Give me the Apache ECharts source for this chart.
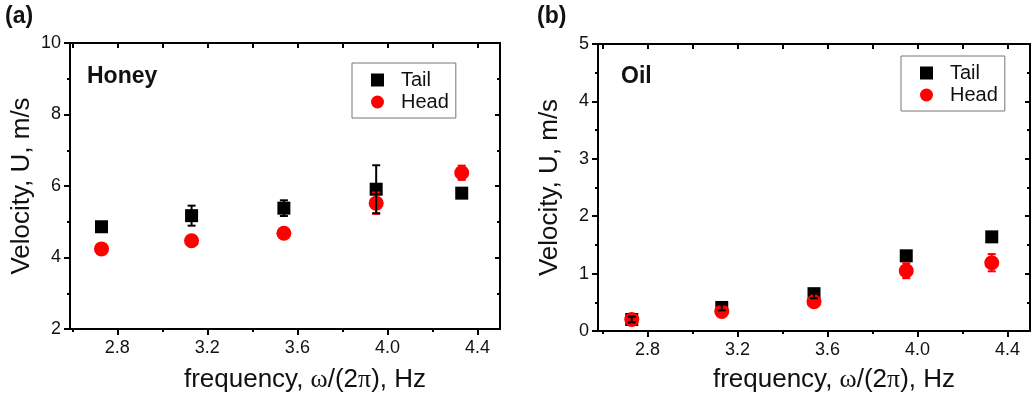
<!DOCTYPE html>
<html><head><meta charset="utf-8">
<script src="https://cdn.jsdelivr.net/npm/echarts@6/dist/echarts.min.js"></script>
<style>html,body{margin:0;padding:0;background:#fff}#c{width:1035px;height:394px}</style>
</head><body><div id="c"></div>
<script>
// ---- data ----
const freq = [2.73, 3.13, 3.54, 3.95, 4.33];
const honeyTail = [4.86, 5.17, 5.38, 5.91, 5.80];
const honeyTailErr = [0.12, 0.28, 0.22, 0.67, 0.10];
const honeyHead = [4.24, 4.47, 4.68, 5.52, 6.37];
const honeyHeadErr = [0.10, 0.10, 0.10, 0.30, 0.20];
const oilTail = [0.20, 0.41, 0.65, 1.31, 1.64];
const oilTailErr = [0.05, 0.05, 0.08, 0.06, 0.06];
const oilHead = [0.20, 0.34, 0.51, 1.05, 1.19];
const oilHeadErr = [0.08, 0.06, 0.08, 0.13, 0.15];
const xMajor = [2.8, 3.2, 3.6, 4.0, 4.4];
const xMinor = [2.6, 3.0, 3.4, 3.8, 4.2];
const panelLabels = ['(a)', '(b)'];
const fluidNames = ['Honey', 'Oil'];

const FONT = 'Liberation Sans, Arial, sans-serif';
const TXT = '#111';

const chart = echarts.init(document.getElementById('c'), null, {renderer: 'canvas'});

function pts(xs, ys, es) { return xs.map((x, i) => es ? [x, ys[i], es[i]] : [x, ys[i]]); }

function errItem(color) {
  return function (params, api) {
    const x = api.value(0), y = api.value(1), e = api.value(2);
    const hi = api.coord([x, y + e]), lo = api.coord([x, y - e]);
    const w = 4;
    const style = {stroke: color, lineWidth: 2};
    return {type: 'group', children: [
      {type: 'line', shape: {x1: hi[0], y1: hi[1], x2: lo[0], y2: lo[1]}, style: style},
      {type: 'line', shape: {x1: hi[0] - w, y1: hi[1], x2: hi[0] + w, y2: hi[1]}, style: style},
      {type: 'line', shape: {x1: lo[0] - w, y1: lo[1], x2: lo[0] + w, y2: lo[1]}, style: style}
    ]};
  };
}

const grids = [
  {left: 70, top: 43, width: 430, height: 286, containLabel: false, outerBoundsMode: 'none'},
  {left: 598, top: 44, width: 432, height: 287, containLabel: false, outerBoundsMode: 'none'}
];
const xRange = [[2.59, 4.5], [2.58, 4.5]];
const yRange = [[2, 10, 2], [0, 5, 1]];
const xNameGap = [38, 36];

const xAxes = [], yAxes = [];
[0, 1].forEach(g => {
  const [mn, mx] = xRange[g];
  xAxes.push({
    gridIndex: g, type: 'value', position: 'bottom', min: mn, max: mx,
    axisLine: {show: true, lineStyle: {color: '#000', width: 2}},
    axisTick: {show: true, customValues: xMajor, length: 6, inside: false, lineStyle: {color: '#000', width: 2}},
    axisLabel: {customValues: xMajor, formatter: v => v.toFixed(1), fontSize: 18, color: TXT, fontFamily: FONT, margin: 10},
    splitLine: {show: false},
    name: 'frequency, {g|ω}/(2{g|π}), Hz', nameLocation: 'middle', nameGap: xNameGap[g],
    nameTextStyle: {fontSize: 26, color: TXT, fontFamily: FONT, padding: [0, 0, 0, 40],
      rich: {g: {fontSize: 26, color: TXT, fontFamily: 'Liberation Serif, serif'}}}
  });
  xAxes.push({
    gridIndex: g, type: 'value', position: 'bottom', min: mn, max: mx,
    axisLine: {show: false},
    axisTick: {show: true, customValues: xMinor, length: 3, inside: false, lineStyle: {color: '#000', width: 2}},
    axisLabel: {show: false}, splitLine: {show: false}
  });
  xAxes.push({
    gridIndex: g, type: 'value', position: 'top', min: mn, max: mx,
    axisLine: {show: true, lineStyle: {color: '#000', width: 2}},
    axisTick: {show: true, customValues: xMajor.concat(xMinor), length: 5, inside: true, lineStyle: {color: '#000', width: 2}},
    axisLabel: {show: false}, splitLine: {show: false}
  });
  const [ymn, ymx, yint] = yRange[g];
  yAxes.push({
    gridIndex: g, type: 'value', position: 'left', min: ymn, max: ymx, interval: yint,
    axisLine: {show: true, lineStyle: {color: '#000', width: 2}},
    axisTick: {show: true, length: 6, inside: false, lineStyle: {color: '#000', width: 2}},
    minorTick: {show: true, splitNumber: 2, length: 3, lineStyle: {color: '#000', width: 2}},
    axisLabel: {fontSize: 18, color: TXT, fontFamily: FONT, margin: 9},
    splitLine: {show: false}, minorSplitLine: {show: false},
    name: 'Velocity, U, m/s', nameLocation: 'middle', nameGap: 35, nameRotate: 90,
    nameTextStyle: {fontSize: 26, color: TXT, fontFamily: FONT}
  });
  yAxes.push({
    gridIndex: g, type: 'value', position: 'right', min: ymn, max: ymx, interval: yint,
    axisLine: {show: true, lineStyle: {color: '#000', width: 2}},
    axisTick: {show: true, length: 5, inside: true, lineStyle: {color: '#000', width: 2}},
    minorTick: {show: true, splitNumber: 2, length: 3, lineStyle: {color: '#000', width: 2}},
    axisLabel: {show: false}, splitLine: {show: false}
  });
});

const panels = [
  {tail: honeyTail, tailErr: honeyTailErr, head: honeyHead, headErr: honeyHeadErr},
  {tail: oilTail, tailErr: oilTailErr, head: oilHead, headErr: oilHeadErr}
];
const series = [];
panels.forEach((p, g) => {
  const xi = g * 3, yi = g * 2;
  series.push({name: 'Tail', type: 'scatter', xAxisIndex: xi, yAxisIndex: yi, symbol: 'rect', symbolSize: 13,
    itemStyle: {color: '#000', opacity: 1}, data: pts(freq, p.tail), z: 2});
  series.push({name: 'Head', type: 'scatter', xAxisIndex: xi, yAxisIndex: yi, symbol: 'circle', symbolSize: 15,
    itemStyle: {color: '#ff0000', opacity: 1}, data: pts(freq, p.head), z: 3});
  series.push({name: 'headErr', type: 'custom', xAxisIndex: xi, yAxisIndex: yi, renderItem: errItem('#ff0000'),
    encode: {x: 0, y: 1}, data: pts(freq, p.head, p.headErr), z: 4});
  series.push({name: 'tailErr', type: 'custom', xAxisIndex: xi, yAxisIndex: yi, renderItem: errItem('#000'),
    encode: {x: 0, y: 1}, data: pts(freq, p.tail, p.tailErr), z: 5});
});

const legendPos = [{left: 352, top: 63}, {left: 901, top: 56}];
const legends = legendPos.map(pos => ({
  left: pos.left, top: pos.top, orient: 'vertical',
  data: [{name: 'Tail', icon: 'rect', itemStyle: {color: '#000', opacity: 1}}, {name: 'Head', icon: 'circle', itemStyle: {color: '#ff0000', opacity: 1}}],
  itemWidth: 13, itemHeight: 13, itemGap: 2,
  padding: [7, 7, 6, 19],
  borderColor: '#777', borderWidth: 1,
  textStyle: {fontSize: 20, color: TXT, fontFamily: FONT, lineHeight: 20, padding: [0, 0, 0, 12]},
  selectedMode: false
}));

const graphics = [
  {type: 'text', left: 5, top: 5, style: {text: panelLabels[0], font: 'bold 23px ' + FONT, fill: TXT}},
  {type: 'text', left: 537, top: 5, style: {text: panelLabels[1], font: 'bold 23px ' + FONT, fill: TXT}},
  {type: 'text', left: 87, top: 65, style: {text: fluidNames[0], font: 'bold 23px ' + FONT, fill: TXT}},
  {type: 'text', left: 621, top: 65, style: {text: fluidNames[1], font: 'bold 23px ' + FONT, fill: TXT}}
];

chart.setOption({
  animation: false,
  backgroundColor: '#fff',
  grid: grids,
  xAxis: xAxes,
  yAxis: yAxes,
  legend: legends,
  graphic: graphics,
  series: series
});
</script>
</body></html>
